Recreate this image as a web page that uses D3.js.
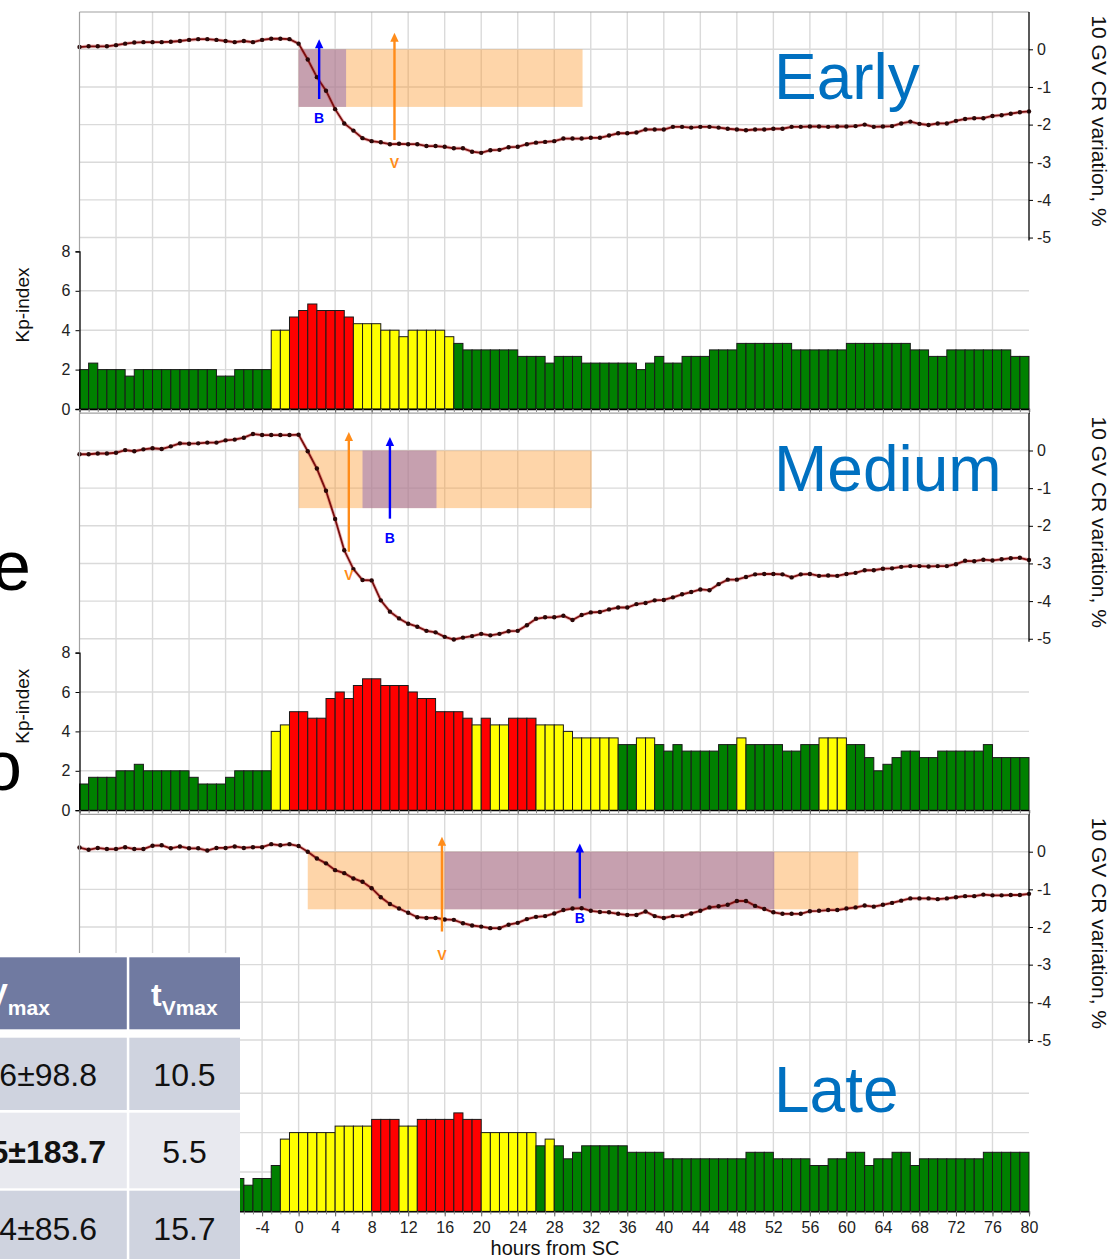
<!DOCTYPE html>
<html>
<head>
<meta charset="utf-8">
<script src="https://cdn.jsdelivr.net/npm/d3@7"></script>
<style>
  body { margin: 0; background: #fff; }
  svg { display: block; }
  text { font-family: "Liberation Sans", Arial, sans-serif; }
</style>
</head>
<body>
<svg id="chart" width="1114" height="1259"></svg>
<script>
// ---- hourly cosmic-ray variation (10 GV, %), hours -24 .. 80 from SC ----
const crStart = -24;
const crEarly = [
  0.06, 0.08, 0.08, 0.08, 0.11, 0.15, 0.18, 0.19, 0.19, 0.19, 0.20, 0.22, 0.25, 0.27, 0.27, 0.25,
  0.22, 0.19, 0.22, 0.19, 0.25, 0.28, 0.28, 0.27,
  0.15, -0.27, -0.74, -1.10, -1.59, -1.97, -2.16, -2.36, -2.44, -2.47, -2.52, -2.51, -2.52, -2.52,
  -2.57, -2.57, -2.59, -2.63, -2.63, -2.72, -2.75, -2.68, -2.67, -2.60, -2.59, -2.52, -2.48, -2.46,
  -2.44, -2.37, -2.37, -2.37, -2.35, -2.35, -2.29, -2.23, -2.23, -2.21, -2.13, -2.13, -2.13, -2.06,
  -2.06, -2.08, -2.06, -2.06, -2.08, -2.11, -2.13, -2.15, -2.13, -2.13, -2.11, -2.11, -2.06, -2.06,
  -2.05, -2.05, -2.06, -2.05, -2.05, -2.04, -2.00, -2.06, -2.05, -2.04, -1.97, -1.92, -1.98, -2.01,
  -1.97, -1.97, -1.90, -1.85, -1.83, -1.83, -1.77, -1.75, -1.71, -1.67, -1.65
];
const crMedium = [
  -0.10, -0.10, -0.08, -0.08, -0.06, 0.01, -0.02, 0.03, 0.06, 0.04, 0.11, 0.19, 0.18, 0.19, 0.21, 0.21,
  0.27, 0.29, 0.34, 0.44, 0.41, 0.41, 0.41, 0.41,
  0.42, -0.02, -0.48, -1.07, -1.82, -2.65, -3.15, -3.44, -3.45, -3.98, -4.28, -4.46, -4.60, -4.68,
  -4.79, -4.83, -4.95, -5.02, -4.97, -4.93, -4.87, -4.91, -4.87, -4.80, -4.79, -4.64, -4.47, -4.43,
  -4.43, -4.39, -4.50, -4.37, -4.30, -4.29, -4.22, -4.17, -4.17, -4.08, -4.05, -3.98, -3.97, -3.90,
  -3.82, -3.76, -3.69, -3.71, -3.55, -3.43, -3.43, -3.36, -3.29, -3.28, -3.28, -3.29, -3.37, -3.29,
  -3.28, -3.33, -3.32, -3.33, -3.28, -3.25, -3.18, -3.18, -3.14, -3.13, -3.09, -3.07, -3.07, -3.08,
  -3.07, -3.07, -3.02, -2.93, -2.94, -2.90, -2.92, -2.89, -2.86, -2.85, -2.91
];
const crLate = [
  0.11, 0.05, 0.10, 0.07, 0.07, 0.12, 0.07, 0.07, 0.16, 0.17, 0.09, 0.14, 0.09, 0.09, 0.03, 0.10,
  0.10, 0.14, 0.10, 0.12, 0.12, 0.20, 0.17, 0.20,
  0.15, 0.00, -0.18, -0.31, -0.49, -0.57, -0.71, -0.80, -0.97, -1.21, -1.39, -1.51, -1.62, -1.74,
  -1.76, -1.76, -1.80, -1.81, -1.90, -1.96, -1.99, -2.03, -2.03, -1.94, -1.89, -1.79, -1.73, -1.71,
  -1.64, -1.55, -1.51, -1.50, -1.57, -1.60, -1.61, -1.65, -1.68, -1.68, -1.59, -1.71, -1.76, -1.71,
  -1.71, -1.64, -1.57, -1.48, -1.45, -1.41, -1.31, -1.31, -1.44, -1.52, -1.61, -1.65, -1.65, -1.65,
  -1.58, -1.57, -1.55, -1.55, -1.51, -1.48, -1.43, -1.46, -1.41, -1.36, -1.30, -1.24, -1.24, -1.24,
  -1.26, -1.24, -1.21, -1.18, -1.18, -1.14, -1.16, -1.16, -1.15, -1.15, -1.12
];

// ---- hourly Kp index; each value fills [h, h+1) ----
const kpEarlyStart = -24;
const kpEarly = [
  2, 2.33, 2, 2, 2, 1.67, 2, 2, 2, 2, 2, 2, 2, 2, 2, 1.67, 1.67, 2, 2, 2, 2,
  4, 4, 4.67, 5, 5.33, 5, 5, 5, 4.67,
  4.33, 4.33, 4.33, 4, 4, 3.67, 4, 4, 4, 4, 3.67,
  3.33, 3, 3, 3, 3, 3, 3, 2.67, 2.67, 2.67, 2.33, 2.67, 2.67, 2.67,
  2.33, 2.33, 2.33, 2.33, 2.33, 2.33, 2, 2.33, 2.67, 2.33, 2.33, 2.67, 2.67, 2.67,
  3, 3, 3, 3.33, 3.33, 3.33, 3.33, 3.33, 3.33, 3, 3, 3, 3, 3, 3,
  3.33, 3.33, 3.33, 3.33, 3.33, 3.33, 3.33, 3, 3, 2.67, 2.67, 3, 3, 3, 3, 3, 3, 3, 2.67, 2.67
];
const kpMediumStart = -24;
const kpMedium = [
  1.33, 1.67, 1.67, 1.67, 2, 2, 2.33, 2, 2, 2, 2, 2, 1.67, 1.33, 1.33, 1.33, 1.67, 2, 2, 2, 2,
  4, 4.33, 5, 5, 4.67, 4.67, 5.67, 6, 5.67, 6.33, 6.67, 6.67, 6.33, 6.33, 6.33, 6, 5.67, 5.67,
  5, 5, 5, 4.67, 4.33, 4.67, 4.33, 4.33, 4.67, 4.67, 4.67, 4.33, 4.33, 4.33, 4,
  3.67, 3.67, 3.67, 3.67, 3.67, 3.33, 3.33, 3.67, 3.67, 3.33, 3, 3.33, 3, 3, 3, 3,
  3.33, 3.33, 3.67, 3.33, 3.33, 3.33, 3.33, 3, 3, 3.33, 3.33, 3.67, 3.67, 3.67,
  3.33, 3.33, 2.67, 2, 2.33, 2.67, 3, 3, 2.67, 2.67, 3, 3, 3, 3, 3, 3.33, 2.67, 2.67, 2.67, 2.67
];
const kpLateStart = -7;
const kpLate = [
  1.67, 1.33, 1.67, 1.67, 2.33, 3.67,
  4, 4, 4, 4, 4, 4.33, 4.33, 4.33, 4.33, 4.67, 4.67, 4.67, 4.33, 4.33,
  4.67, 4.67, 4.67, 4.67, 5, 4.67, 4.67, 4, 4, 4, 4, 4, 4, 3.33, 3.67, 3.33,
  2.67, 3, 3.33, 3.33, 3.33, 3.33, 3.33, 3, 3, 3, 3, 2.67, 2.67, 2.67, 2.67, 2.67,
  2.67, 2.67, 2.67, 2.67, 3, 3, 3, 2.67, 2.67, 2.67, 2.67, 2.33, 2.33, 2.67, 2.67,
  3, 3, 2.33, 2.67, 2.67, 3, 3, 2.33, 2.67, 2.67, 2.67, 2.67, 2.67, 2.67, 2.67,
  3, 3, 3, 3, 3
];

// ---- event annotations per panel ----
const panelNames = ["Early", "Medium", "Late"];
const panelNameBaselines = [98.5, 491, 1112];
const bandSpans = [[0, 31.1], [0, 32.1], [1.0, 61.3]];
const innerSpans = [[0, 5.2], [7.0, 15.1], [16.0, 52.1]];
const spanLevels = [0, -1.53];
const vTimes = [10.5, 5.5, 15.7];
const vFrom = [-2.41, -2.69, -2.12];
const vTo = [0.44, 0.49, 0.40];
const bTimes = [2.25, 10.0, 30.8];
const bFrom = [-1.32, -1.81, -1.24];
const bTo = [0.27, 0.36, 0.22];

// ---- axis ticks ----
const hourTicks = [-24, -20, -16, -12, -8, -4, 0, 4, 8, 12, 16, 20, 24, 28, 32, 36, 40, 44, 48, 52, 56, 60, 64, 68, 72, 76, 80];
const crTicks = [0, -1, -2, -3, -4, -5];
const kpTicks = [0, 2, 4, 6, 8];
const kpGrid = [2, 4, 6];

// ---- summary table ----
const tableHeader = [["V", "max"], ["t", "Vmax"]];
const tableCol1 = ["6±98.8", "5±183.7", "4±85.6"];
const tableCol2 = ["10.5", "5.5", "15.7"];
const tableBoldRow = 1;

const panels = [
  { name: panelNames[0], cr: crEarly, kp: kpEarly, kpStart: kpEarlyStart },
  { name: panelNames[1], cr: crMedium, kp: kpMedium, kpStart: kpMediumStart },
  { name: panelNames[2], cr: crLate, kp: kpLate, kpStart: kpLateStart }
];

const svg = d3.select("#chart");
const x = d3.scaleLinear().domain([-24, 80]).range([79.5, 1029]);
const PANEL_STEP = 401.2;
const GRID = "#dadada";
const TABLE_RIGHT = 240;   // the summary table covers everything left of this in the last panel

function kpColor(v) {
  if (v >= 4.5) return "#ff0000";
  if (v >= 3.5) return "#ffff00";
  return "#008000";
}

panels.forEach((p, i) => {
  const off = i * PANEL_STEP;
  const top = 12 + off;
  const last = i === panels.length - 1;
  const yCR = d3.scaleLinear().domain([0, -5]).range([49.3 + off, 237.55 + off]);
  const yKp = d3.scaleLinear().domain([0, 8]).range([409 + off, 251.4 + off]);
  const base = yKp(0);
  const g = svg.append("g");

  // grid
  g.append("g").selectAll("line").data(hourTicks.filter(h => h > -24 && h < 80)).join("line")
    .attr("x1", d => x(d)).attr("x2", d => x(d)).attr("y1", top).attr("y2", base)
    .attr("stroke", GRID).attr("stroke-width", 1.4);
  g.append("g").selectAll("line").data(crTicks).join("line")
    .attr("x1", x(-24)).attr("x2", x(80)).attr("y1", d => yCR(d)).attr("y2", d => yCR(d))
    .attr("stroke", GRID).attr("stroke-width", 1.4);
  g.append("g").selectAll("line").data(kpGrid).join("line")
    .attr("x1", x(-24)).attr("x2", x(80)).attr("y1", d => yKp(d)).attr("y2", d => yKp(d))
    .attr("stroke", GRID).attr("stroke-width", 1.4);

  // time windows
  g.append("rect")
    .attr("x", x(bandSpans[i][0])).attr("width", x(bandSpans[i][1]) - x(bandSpans[i][0]))
    .attr("y", yCR(spanLevels[0])).attr("height", yCR(spanLevels[1]) - yCR(spanLevels[0]))
    .attr("fill", "rgb(252,150,40)").attr("fill-opacity", 0.4);
  g.append("rect")
    .attr("x", x(innerSpans[i][0])).attr("width", x(innerSpans[i][1]) - x(innerSpans[i][0]))
    .attr("y", yCR(spanLevels[0])).attr("height", yCR(spanLevels[1]) - yCR(spanLevels[0]))
    .attr("fill", "rgb(142,107,181)").attr("fill-opacity", 0.5);

  // Kp bars
  g.append("g").selectAll("rect").data(p.kp).join("rect")
    .attr("x", (d, k) => x(p.kpStart + k))
    .attr("width", (d, k) => x(p.kpStart + k + 1) - x(p.kpStart + k))
    .attr("y", d => yKp(d)).attr("height", d => base - yKp(d))
    .attr("fill", d => kpColor(d)).attr("stroke", "#1a1a1a").attr("stroke-width", 1);

  // CR curve
  const line = d3.line().x((d, k) => x(crStart + k)).y(d => yCR(d));
  g.append("path").datum(p.cr).attr("d", line)
    .attr("fill", "none").attr("stroke", "#d04040").attr("stroke-opacity", 0.35).attr("stroke-width", 3.5);
  g.append("path").datum(p.cr).attr("d", line)
    .attr("fill", "none").attr("stroke", "#7a0e0e").attr("stroke-width", 1.8);
  g.append("g").selectAll("circle").data(p.cr).join("circle")
    .attr("cx", (d, k) => x(crStart + k)).attr("cy", d => yCR(d)).attr("r", 2.2)
    .attr("fill", "#2a0808");

  // arrows
  function arrow(t, from, to, color, label, gap) {
    const ax = x(t), yb = yCR(from), yt = yCR(to);
    g.append("line").attr("x1", ax).attr("x2", ax).attr("y1", yb).attr("y2", yt + 7)
      .attr("stroke", color).attr("stroke-width", 2.4);
    g.append("path").attr("d", `M${ax},${yt} L${ax - 4.2},${yt + 9} L${ax + 4.2},${yt + 9} Z`).attr("fill", color);
    g.append("text").attr("x", ax).attr("y", yb + gap).attr("text-anchor", "middle")
      .attr("dominant-baseline", "central").attr("font-size", 14).attr("font-weight", "bold")
      .attr("fill", color).text(label);
  }
  arrow(vTimes[i], vFrom[i], vTo[i], "#ff8c1a", "V", 23);
  arrow(bTimes[i], bFrom[i], bTo[i], "#0000ff", "B", 19.5);

  // frame
  g.append("line").attr("x1", x(-24)).attr("x2", x(80)).attr("y1", top).attr("y2", top)
    .attr("stroke", "#a0a0a0").attr("stroke-width", 1.2);
  g.append("line").attr("x1", x(-24)).attr("x2", x(-24)).attr("y1", top).attr("y2", yKp(8))
    .attr("stroke", "#a0a0a0").attr("stroke-width", 1.2);

  // right CR axis
  const rAxis = g.append("g").attr("transform", `translate(${x(80)},0)`)
    .call(d3.axisRight(yCR).tickValues(crTicks).tickSize(4).tickPadding(4).tickFormat(d => String(d)));
  rAxis.select(".domain").attr("d", `M0,${top}V${yCR(-5) + 3}`).attr("stroke", "#000").attr("stroke-width", 1.3);
  rAxis.selectAll("text").attr("font-size", 16).attr("fill", "#222").attr("font-family", null);
  g.append("text")
    .attr("transform", `translate(1092,${121 + off}) rotate(90)`)
    .attr("text-anchor", "middle").attr("font-size", 21).attr("fill", "#111")
    .text("10 GV CR variation, %");

  // left Kp axis (the last one lies under the summary table)
  if (!last) {
    const lAxis = g.append("g").attr("transform", `translate(${x(-24)},0)`)
      .call(d3.axisLeft(yKp).tickValues(kpTicks).tickSize(4).tickPadding(5));
    lAxis.select(".domain").attr("stroke", "#000").attr("stroke-width", 1.3);
    lAxis.selectAll("text").attr("font-size", 16).attr("fill", "#222").attr("font-family", null);
    g.append("text")
      .attr("transform", `translate(29,${305 + off}) rotate(-90)`)
      .attr("text-anchor", "middle").attr("font-size", 19).attr("fill", "#111")
      .text("Kp-index");
  }

  // bottom hour axis
  const minor = g.append("g").attr("transform", `translate(0,${base})`)
    .call(d3.axisBottom(x).ticks(104).tickSize(3).tickFormat(""));
  minor.select(".domain").attr("stroke", "#000").attr("stroke-width", 1.3);
  minor.selectAll(".tick line").attr("stroke", "#888");
  const labelled = last ? hourTicks.filter(h => x(h) - 12 > TABLE_RIGHT) : [];
  const major = g.append("g").attr("transform", `translate(0,${base})`)
    .call(d3.axisBottom(x).tickValues(hourTicks).tickSize(5).tickPadding(5)
      .tickFormat(d => labelled.includes(d) ? String(d) : ""));
  major.select(".domain").remove();
  major.selectAll(".tick line").attr("stroke", "#666");
  major.selectAll("text").attr("font-size", 16).attr("fill", "#222").attr("font-family", null);

  // panel name
  g.append("text").attr("x", 774).attr("y", panelNameBaselines[i])
    .attr("font-size", 64).attr("fill", "#0070c0").text(p.name);
});

svg.append("text").attr("x", 555).attr("y", 1255).attr("text-anchor", "middle")
  .attr("font-size", 20).attr("fill", "#111").text("hours from SC");

// slide text around the figure
svg.append("text").attr("x", -8).attr("y", 590).attr("font-size", 70).attr("fill", "#000").text("e");
svg.append("text").attr("x", -17).attr("y", 790).attr("font-size", 70).attr("fill", "#000").text("o");

// summary table on a white card
const tbl = svg.append("g");
tbl.append("rect").attr("x", 0).attr("y", 953).attr("width", TABLE_RIGHT).attr("height", 306).attr("fill", "#fff");
const colX = [[-10, 126.8], [129.3, TABLE_RIGHT]];
const rowY = [[957.3, 1029.3], [1037.7, 1110], [1112.7, 1188.3], [1190.7, 1262]];
const rowFill = ["#707aa1", "#cfd3df", "#e8e9ef", "#cfd3df"];
rowY.forEach((ry, r) => {
  colX.forEach(cx => {
    tbl.append("rect").attr("x", cx[0]).attr("y", ry[0]).attr("width", cx[1] - cx[0])
      .attr("height", ry[1] - ry[0]).attr("fill", rowFill[r]);
  });
});
const h1 = tbl.append("text").attr("x", -13.5).attr("y", 1006).attr("fill", "#fff").attr("font-weight", "bold");
h1.append("tspan").attr("font-size", 32).text(tableHeader[0][0]);
h1.append("tspan").attr("font-size", 21).attr("dy", 9).text(tableHeader[0][1]);
const h2 = tbl.append("text").attr("x", 151).attr("y", 1006).attr("fill", "#fff").attr("font-weight", "bold");
h2.append("tspan").attr("font-size", 32).text(tableHeader[1][0]);
h2.append("tspan").attr("font-size", 21).attr("dy", 9).text(tableHeader[1][1]);
const bodyBase = [1086, 1163, 1240];
tableCol1.forEach((t, r) => {
  tbl.append("text").attr("x", r === tableBoldRow ? 106 : 97).attr("y", bodyBase[r])
    .attr("text-anchor", "end").attr("font-size", 32).attr("fill", "#111")
    .attr("font-weight", r === tableBoldRow ? "bold" : "normal").text(t);
});
tableCol2.forEach((t, r) => {
  tbl.append("text").attr("x", 184.5).attr("y", bodyBase[r])
    .attr("text-anchor", "middle").attr("font-size", 32).attr("fill", "#111").text(t);
});
</script>
</body>
</html>
